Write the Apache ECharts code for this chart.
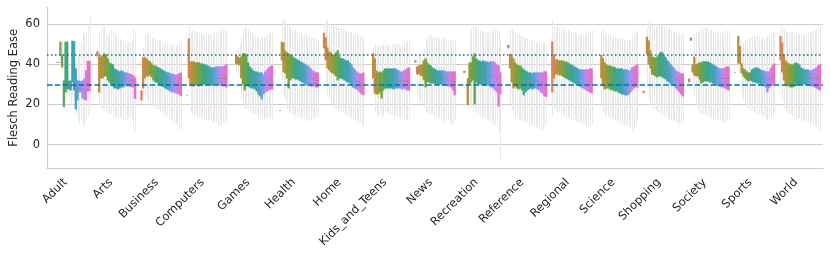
<!DOCTYPE html>
<html><head><meta charset="utf-8">
<script src="https://cdn.jsdelivr.net/npm/echarts/dist/echarts.min.js"></script>
<style>html,body{margin:0;padding:0;background:#fff}#c{width:831px;height:257px}</style>
</head><body><div id="c"></div>
<script>
const _ = null;
const categories = ['Adult','Arts','Business','Computers','Games','Health','Home','Kids_and_Teens','News','Recreation','Reference','Regional','Science','Shopping','Society','Sports','World'];
const yTicks = [0, 20, 40, 60];
const refLines = [45, 30];
const nLevels = 24;

const q1 = [
 [_,_,_,_,41,41,44.5,38.5,18.8,26,27.5,27.6,27,31,27,17.5,22,26,26,23,22.5,22,26.5,26.5],
 [_,44,26,33,33,34,34,32,31,30,29,28,28,27.5,28,28.5,28.5,29,29.5,29,29,28.5,28.5,22.8],
 [22,28,33,34,34,34.5,33.5,32,31,31,30,29.5,29,28.5,28,27.5,27,26.5,26,26,25.5,25.5,25,24.3],
 [24.6,33,29.5,29,29,29.5,29.5,29,29.5,29.5,30,30,30,29.5,29.5,29.5,30,30,29.5,29.5,29.5,29,29,28.5],
 [_,_,40,40,39.5,33,30,27,29,29,28.5,28,28,27.5,26.5,25,24,22.5,25,26,26.5,27,27.5,27.5],
 [_,17,42,36,35.5,33,28,32,33,33,32.5,32.5,32,31.5,31,30.5,30,29.5,29.5,29,29,29,28.5,28.5],
 [48,42,38,37,36,35.5,35,34,32,33,33,32.5,32,31.5,31,30.5,29.5,28.5,28,27.5,27,26,25,24.6],
 [_,_,33,25.5,25,25,26,23,27,28,28,28,28,28,27.5,28,28,28,28,27.5,28,27.5,27,27],
 [41,35,35,34.5,34,32,28.5,31,31,30.5,30.5,30.5,30,30,30,30,29.5,29.5,29.5,29,29,28.5,27,24.6],
 [_,_,35.8,_,19.7,30,31,32,20,31,30,30,30,29.5,29.5,30,29.5,29,28.5,28,27,26,19,25],
 [_,48,38,31,28,29,28,27.5,28,27,24.6,26,27,27.5,28,27.5,28,28,27.5,27,26,25.5,24,23.8],
 [26,33,35,35,34.5,34.5,34,33.5,33,32.5,32,31.5,31,30.5,30,29.5,29,28.5,28,27.5,27,26.5,26,25.5],
 [_,_,33,29,27.5,28,28,27.5,27,27,26.5,26.5,26,25.5,25,25,24.5,24.5,25,26,27,28,28.5,28.5],
 [25.8,_,45,40,38,35,34.5,34,33.5,34,34,33.5,33,32.5,31.5,31,30,29.5,29,28,27,26,25,24],
 [31,51.8,36,34.5,34,34,32.5,30.5,31,31.5,31.5,31.5,31,31,30.5,30,29.5,29,29,28.5,28.5,28,27.5,27],
 [36,_,40.5,40,35.5,34,33,32,31.5,32,31.5,31,31,30.5,30.5,30,29.5,29,28.5,26,28,29,29.5,29.5],
 [42,36,32,30,29,29,28.5,28.5,29,29,29.5,29.5,30,30,30,30,29.5,29.5,29,29,28.5,28,27.5,27]
];
const med = [
 [_,_,_,_,41,41,48,42,29,30,31,29.5,30,38,31,28,27,28,28,28,27,28,34,35],
 [_,45.5,38,38.5,39,40,39,37,36.5,36,35,34,33,33,32.5,33,32.5,33,33,32.5,32,32,32,30],
 [25,36,38,37,37.5,37,37,36,35.5,35.5,35,34.5,34,33.5,33,32.5,32,31.5,31,30.5,30,30,29.5,29],
 [24.6,42,36,36,35.5,35.5,35,35,35,34.5,34.5,34.5,34,34,34,33.5,33.5,33.5,33,33,33,33,33,33],
 [_,_,42,42,41.5,40,38,37,36,35,34.5,34,33.5,33,32,31,30,28,29.5,30,31,32,32.5,33],
 [_,17,47,45,42,41,38,39,39,38.5,38,37.5,37,36.5,36,35,34.5,34,33.5,33,33,32.5,32,32],
 [52,48,44,42,41,40.5,40,40,39,38.5,38,37.5,37,36.5,36,35.5,34.5,33.5,33,32,31.5,31,30,30],
 [_,_,40,35,32,31,31,30,32,33,33,33,33,32.5,32.5,32.5,32.5,32,32,32,32,31.5,31.5,31.5],
 [41.5,37,37,37.5,37.5,37,36,36,35.5,35,34.5,34,34,34,33.5,33.5,33,33,33,33,32.5,32,31.5,31],
 [_,_,36.3,_,30,33,35,37,33,36,36,36,35.5,35.5,35,35,35,34.5,34,34,33.5,33,30,30],
 [_,49,42,40,37,35,34,34,33.5,33,32,32,32,32,32,32,31.5,31.5,31.5,31,31,30.5,30,30],
 [38,40,39,39,38.5,38.5,38,38,37.5,37,36.5,36,35.5,35,34.5,34,33.5,33,33,32.5,32,31.5,31.5,31],
 [_,_,39,37,35,34.5,34,34,33.5,33,33,32.5,32,32,31.5,31,30.5,30.5,30.5,31,32,33,33.5,34],
 [26.3,_,50,45,43,40,39.5,39.5,39,40,40,39.5,39,38,37,36,35,34.5,34,33,32.5,32,31,30.5],
 [32,52.6,38,39,37.5,37,36.5,36,36,36.5,36.5,36,36,35.5,35,34.5,34,33.5,33.5,33,33,33,33,33],
 [36,_,47,45,38,36,35,34.5,34,34,34.5,34.5,34.5,34,34,33.5,33,33,32.5,32,32.5,33,34,34],
 [47,44,40,37,36,35.5,35,35,35,34.5,34.5,34.5,34,34,34,34,33.5,33.5,33,33,33,33,33,33]
];
const q3 = [
 [_,_,_,_,41,41,51.3,45,32,51.3,51.3,31.8,32,51.8,51.6,38,32,32,31.5,32,33,37,41.8,41.8],
 [_,46.5,44,44,44.5,45.5,45,43,41,40.5,40,38,37.5,37,36.5,37,36.5,36,36,35.5,35.5,35,34.5,33.5],
 [27,43.5,43.8,43,42,41.5,40.5,39.5,39.5,39,38.5,38,37.5,37,36.5,36,36,35.5,35.5,35,35,35,35.5,36],
 [24.6,53,41.5,41.5,41.5,41,41,41,40.5,40.5,40,40,39.5,39,38.5,38.5,38.5,39,39,39,39,39,39.5,40],
 [_,_,44.7,44,43.5,44,45.5,45.5,45,41,39,38,37,36.5,36.5,36,36,36,35,36.5,37.5,38.5,39,39.5],
 [_,17,51.3,51,47,46,45.5,45,44.5,43.5,43,42.5,42,41.5,41,40.5,40,39.5,39,38,37,36.5,36,36],
 [55.8,53.5,48.5,46.5,46,45,45,46,47,44,43,43,42.5,42,42,41,40,38.5,37.5,36.5,36,35.5,35.5,36],
 [_,_,45.5,43,37,36,36.5,36,37,38,38,38,38,38,38,38,37.5,37,36.5,36.5,37,37.5,38,38.5],
 [42,39,39.5,40,40,42,43,41,40,39.5,38.5,38,37.5,37,37,37,37,37,36.5,36.5,36.5,36.5,36.5,36.5],
 [_,_,36.8,_,33,41,41,44,45.5,43,42,42,41.5,42,41.5,41.5,41,41.5,41.5,41.5,41,40,39.5,36],
 [_,49.7,45.3,44,43,41,40,39.5,39.5,38.5,37.5,37,36.5,36,36,35.5,36,36,36,36,36,36,36.5,36.5],
 [51.5,45,42.5,42.5,42,42,42,41.5,41.5,41,40.5,40,39.5,39,38.5,38,37.5,37.5,37.5,37.5,37.5,37.5,38,38],
 [_,_,44.7,43,41,40,39.5,39.5,39,39,38.5,38,38,38,38,37.5,37.5,37.5,37,37,38.5,39,39.5,40],
 [26.8,_,53.8,52,47,44,43.5,43.5,44,45,46.3,46,44.5,43.5,42,41,40,39,38,37,36.5,36,35.5,35.5],
 [33,53.4,40,43.8,40,40.5,41,41,41.5,41.5,41.5,41.5,41,40.5,40,39.5,39,38.5,38,38,38,38.5,39,39],
 [36,_,54.2,49.2,40.5,38,37.5,36.5,36,36,37.5,38,38.5,38.5,38,37.5,37,37,36.5,36.5,36.5,38,39.5,40.5],
 [54.2,51,45,42,41,40.5,40,40,40.5,41,40.5,40,38.5,38,37.5,37.5,37.5,37,37,37.5,38,38.5,39.5,40]
];
const lo = [
 [_,_,_,_,41,41,40,37,18,24,25,23,20,24,22,14,12,10,12,8,10,12,14,17],
 [_,42,20,18,17,17,16,16,15,15,14,14,13,13,13,13,12,12,12,13,13,12,8,7],
 [20,22,24,22,20,20,19,19,18,18,17,16,16,15,14,14,13,12,12,11,10,10,8,7],
 [24.6,30,16,15,14,14,14,13,13,13,12,12,12,12,12,11,11,11,10,10,10,11,10,12],
 [_,_,36,35,34,22,20,18,18,17,16,16,15,15,15,14,13,12,12,13,13,14,13,12],
 [_,17,30,24,22,18,16,16,15,15,14,14,14,13,13,13,12,12,12,12,13,13,14,14],
 [40,30,24,22,20,19,18,18,17,17,16,16,15,15,14,14,13,13,12,12,11,11,10,9],
 [_,_,28,16,15,14,15,13,15,16,16,15,15,15,14,14,14,14,13,14,13,12,12,13],
 [41,24,22,21,20,18,16,16,15,15,15,14,14,14,13,13,12,11,12,12,11,10,9,12],
 [_,_,35.8,_,18,20,18,16,18,16,15,14,14,13,13,12,12,11,11,10,10,9,6,-8.2],
 [_,48,20,17,15,14,14,12,12,12,11,11,11,10,10,10,9,9,8,8,7,7,9,10],
 [14,18,17,16,16,15,15,14,14,13,13,12,12,12,11,11,11,10,10,10,9,9,9,10],
 [_,_,20,16,15,14,14,13,13,13,12,12,11,11,10,10,10,9,9,8,7,8,10,12],
 [25.8,_,30,22,20,18,17,17,16,16,15,15,14,14,13,13,12,12,12,11,11,10,10,11],
 [31,51.8,30,24,20,18,16,15,15,15,14,14,14,13,13,13,12,12,12,11,11,11,12,12],
 [36,_,36,36,24,22,20,18,18,17,17,16,16,15,15,15,14,14,13,12,13,14,15,16],
 [30,22,18,17,16,15,15,14,14,13,13,13,12,12,12,11,11,10,10,10,9,9,8,7]
];
const hi = [
 [_,_,_,_,41,41,52,52,33,52,52,36,40,52,52,42,44,48,50,56,55,56,60,64.6],
 [_,47,56,58,59,59,56,55,57,57,57,56,54,54,53,52,52,52,51,51,51,52,58,56],
 [28,48,55,56,55,54,54,53,53,52,52,52,51,51,50,50,50,50,50,49,49,50,50,51],
 [24.6,61,56,57,57,56,56,56,56,55,55,55,55,55,55,55,56,56,56,57,57,58,58,57],
 [_,_,47,48,50,54,58,59,58,58,57,56,55,54,54,53,53,54,53,54,55,55,56,56],
 [_,17,62,63,61,60,59,58,58,57,57,56,56,56,55,55,55,54,54,53,53,53,52,52],
 [60,63,62,61,60,60,59,59,59,58,58,58,57,57,57,56,56,55,55,55,54,54,54,53],
 [_,_,48,50,50,49,50,50,50,50,50,49,49,50,50,50,50,50,49,50,51,51,52,52],
 [42,44,45,46,47,48,52,54,55,55,54,54,54,54,53,53,53,53,52,52,52,52,52,52],
 [_,_,36.8,_,40,56,58,59,60,58,58,57,57,57,56,56,56,56,57,57,58,58,56,52],
 [_,49.7,58,58,57,56,55,55,54,54,53,53,53,52,52,52,52,51,51,51,51,51,51,50],
 [62,60,59,59,58,58,58,57,57,57,57,56,56,56,55,55,55,55,55,55,56,56,57,57],
 [_,_,57,58,56,55,55,55,54,54,54,53,53,53,53,52,52,52,52,53,54,55,56,57],
 [26.8,_,58,62,61,60,59,59,59,60,60,60,59,59,58,58,57,57,56,56,56,55,55,55],
 [33,53.4,45,55,56,57,57,58,58,58,58,58,57,57,57,56,56,56,56,55,56,56,57,57],
 [36,_,55,52,48,51,52,52,53,53,54,54,54,54,54,53,53,53,53,54,55,55,56,56],
 [58,59,58,57,56,56,56,56,56,55,55,55,55,55,55,55,56,56,56,57,57,58,58,59]
];

// ---- palette (husl-like anchors, slightly desaturated) ----
const anchors = ['#f77189','#dc8932','#ae9d31','#77ab31','#33b07a','#36ada4','#38a9c5','#6e9bf4','#cc7af4','#f565cc'];
function hexRgb(h){return [1,3,5].map(i=>parseInt(h.substr(i,2),16)/255);}
function desat(rgb,f){
  const [r,g,b]=rgb, mx=Math.max(r,g,b), mn=Math.min(r,g,b), l=(mx+mn)/2;
  if(mx===mn) return rgb;
  const d=mx-mn, s=l>0.5?d/(2-mx-mn):d/(mx+mn);
  let h; if(mx===r) h=(g-b)/d+(g<b?6:0); else if(mx===g) h=(b-r)/d+2; else h=(r-g)/d+4; h/=6;
  const s2=s*f, q=l<0.5?l*(1+s2):l+s2-l*s2, p=2*l-q;
  const hue=t=>{if(t<0)t+=1;if(t>1)t-=1;if(t<1/6)return p+(q-p)*6*t;if(t<1/2)return q;if(t<2/3)return p+(q-p)*(2/3-t)*6;return p;};
  return [hue(h+1/3),hue(h),hue(h-1/3)];
}
const colors = [];
for (let j=0;j<nLevels;j++){
  const pos=0.5+j*8.5/(nLevels-1), k=Math.floor(pos), f=pos-k;
  const a=hexRgb(anchors[k]), b=hexRgb(anchors[Math.min(k+1,9)]);
  const mix=a.map((v,i)=>v+(b[i]-v)*f);
  const c=desat(mix,0.88).map(v=>Math.round(Math.max(0,Math.min(1,v))*255));
  colors.push('rgb('+c.join(',')+')');
}

const items = [];
categories.forEach((c, ci) => {
  for (let j = 0; j < nLevels; j++) {
    if (q1[ci][j] == null) continue;
    items.push([ci, j, lo[ci][j], q1[ci][j], med[ci][j], q3[ci][j], hi[ci][j]]);
  }
});

function renderItem(params, api) {
  const ci = api.value(0), j = api.value(1);
  const band = api.size([1, 0])[0];
  const gw = band * 0.9, bw = gw / nLevels;
  const cx = api.coord([ci, 0])[0];
  const x0 = cx - gw / 2 + j * bw, xm = Math.round(x0 + bw / 2) + 0.5;
  const y = v => api.coord([ci, v])[1];
  const yLo = y(api.value(2)), yQ1 = y(api.value(3)), yMed = y(api.value(4)), yQ3 = y(api.value(5)), yHi = y(api.value(6));
  return { type: 'group', children: [
    { type: 'line', shape: { x1: xm, y1: yHi, x2: xm, y2: yLo }, style: { stroke: '#e9e9e9', lineWidth: 1 } },
    { type: 'rect', shape: { x: x0 - 0.3, y: yQ3, width: bw + 0.6, height: Math.max(yQ1 - yQ3, 0) }, style: { fill: colors[j] } },
    { type: 'line', shape: { x1: x0, y1: yMed, x2: x0 + bw, y2: yMed }, style: { stroke: '#8a8a8a', lineWidth: 0.8 } }
  ]};
}

const FONT = 'DejaVu Sans';
const chart = echarts.init(document.getElementById('c'), null, { renderer: 'canvas' });
chart.setOption({
  animation: false,
  backgroundColor: '#ffffff',
  grid: { left: 47, right: 8, top: 7.3, bottom: 88.7, containLabel: false, outerBoundsMode: 'none' },
  xAxis: {
    type: 'category', data: categories,
    axisLine: { onZero: false, lineStyle: { color: '#cccccc', width: 1.2 } },
    axisTick: { show: false }, splitLine: { show: false },
    axisLabel: { rotate: 45, interval: 0, fontSize: 11.5, color: '#262626', fontFamily: FONT, margin: 8, padding: [0, 6, 0, 0] }
  },
  yAxis: {
    type: 'value', min: -11.85, max: 68.5,
    name: 'Flesch Reading Ease', nameLocation: 'middle', nameGap: 27, nameMoveOverlap: false,
    nameTextStyle: { fontSize: 11.5, color: '#262626', fontFamily: FONT },
    axisLine: { show: true, lineStyle: { color: '#cccccc', width: 1.2 } },
    axisTick: { show: false }, splitLine: { show: false },
    axisLabel: { fontSize: 11.5, color: '#262626', fontFamily: FONT, margin: 7,
      formatter: v => (yTicks.some(t => Math.abs(t - v) < 1e-6) ? String(Math.round(v)) : '') }
  },
  series: [
    { type: 'line', data: [], silent: true, z: 1,
      markLine: { silent: true, z: 1, symbol: 'none', label: { show: false }, animation: false,
        lineStyle: { color: '#cccccc', width: 1, type: 'solid' },
        data: yTicks.map(v => ({ yAxis: v })) } },
    { type: 'custom', renderItem, data: items, encode: { x: 0, y: [2, 6] }, z: 2, silent: true, clip: false },
    { type: 'line', data: [], silent: true, z: 5,
      markLine: { silent: true, z: 6, symbol: 'none', label: { show: false }, animation: false,
        data: [
          { yAxis: refLines[0], lineStyle: { color: '#0173b2', width: 1.5, type: [1.5, 2.5] } },
          { yAxis: refLines[1], lineStyle: { color: '#0173b2', width: 1.6, type: [5.5, 2.4] } }
        ] } }
  ]
});
</script>
</body></html>
